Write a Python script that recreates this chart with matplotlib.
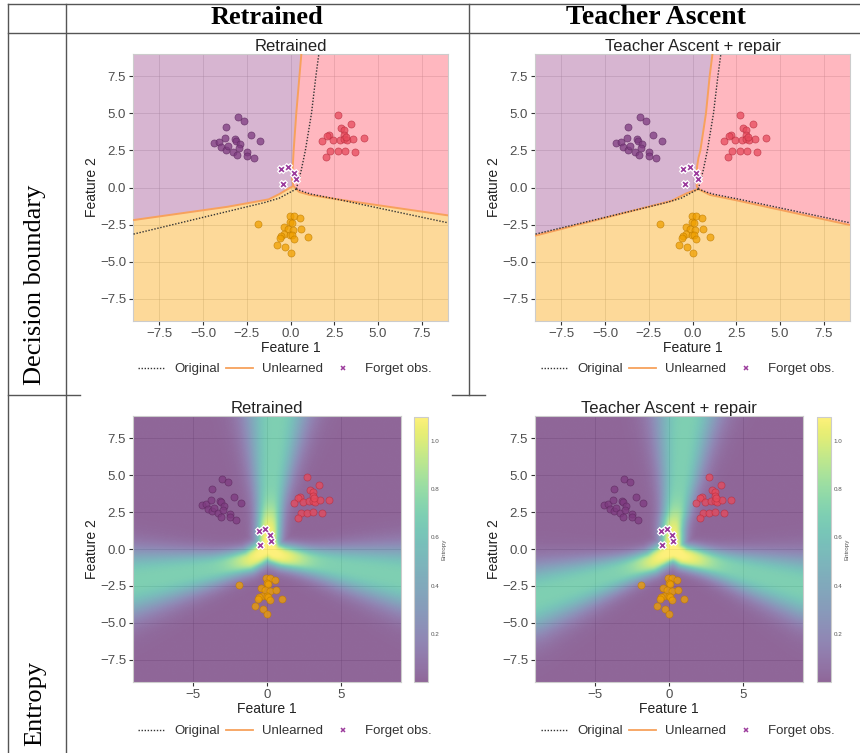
import numpy as np
import matplotlib.pyplot as plt
from matplotlib.colors import ListedColormap
from matplotlib.lines import Line2D
from matplotlib.path import Path

plt.rcParams['font.family'] = ['Liberation Sans', 'DejaVu Sans']

# ---- training points ----
purple_x = [-2.99, -2.63, -3.67, -2.24, -1.73, -4.37, -4.10, -3.76, -3.16, -3.12,
            -2.86, -3.99, -3.71, -3.58, -3.27, -2.97, -3.07, -2.50, -2.48, -2.07]
purple_y = [4.72, 4.51, 4.09, 3.52, 3.11, 2.97, 3.04, 3.31, 3.25, 3.16,
            2.93, 2.70, 2.55, 2.77, 2.41, 2.63, 2.16, 2.36, 2.14, 1.98]
red_x = [2.71, 3.46, 2.90, 3.08, 3.07, 2.22, 2.08, 1.78, 2.42, 2.84,
         3.07, 3.25, 3.55, 4.18, 2.27, 2.71, 3.10, 3.69, 2.05, 3.16]
red_y = [4.87, 4.31, 3.99, 3.88, 3.56, 3.54, 3.45, 3.13, 3.18, 3.22,
         3.25, 3.20, 3.29, 3.31, 2.43, 2.46, 2.48, 2.41, 2.07, 3.43]
orange_x = [-0.05, 0.20, 0.52, -0.02, 0.06, -1.85, -0.40, -0.15, 0.17, 0.60,
            -0.35, -0.03, 0.06, -0.53, -0.62, 0.22, 0.98, -0.80, -0.30, 0.02]
orange_y = [-1.93, -1.93, -2.07, -2.30, -2.36, -2.44, -2.66, -2.78, -2.84, -2.78,
            -3.16, -3.18, -3.22, -3.25, -3.38, -3.46, -3.37, -3.85, -4.03, -4.41]
forget_x = [-0.55, -0.15, 0.20, 0.30, -0.45]
forget_y = [1.24, 1.35, 0.95, 0.56, 0.25]

# ---- decision boundary branches (junction -> frame) ----
orig_top = [(0.33, -0.10), (0.45, 0.40), (0.62, 1.20), (0.85, 2.50), (1.20, 5.00), (1.45, 7.50), (1.62, 9.00)]
orig_left = [(0.33, -0.10), (-0.65, -0.72), (-1.50, -1.02), (-9.00, -3.15)]
orig_right = [(0.33, -0.10), (0.85, -0.33), (1.20, -0.45), (2.70, -0.80), (9.00, -2.38)]

retr_top = [(0.16, 0.10), (0.10, 0.60), (0.12, 1.20), (0.18, 2.50), (0.33, 5.00), (0.51, 7.50), (0.62, 9.00)]
retr_left = [(0.16, 0.10), (-0.30, -0.20), (-0.65, -0.45), (-1.25, -0.80), (-3.60, -1.30), (-9.00, -2.20)]
retr_right = [(0.16, 0.10), (0.50, -0.30), (1.10, -0.50), (2.70, -0.80), (9.00, -1.88)]

ta_top = [(0.32, -0.10), (0.24, 0.10), (0.26, 1.40), (0.34, 2.00), (0.45, 2.50), (0.77, 5.00), (0.98, 7.50), (1.14, 9.00)]
ta_left = [(0.32, -0.10), (-0.35, -0.40), (-1.20, -0.90), (-9.00, -3.25)]
ta_right = [(0.32, -0.10), (1.00, -0.50), (2.54, -0.87), (9.00, -2.53)]

fill_cols = ['#9D488E', '#FF4D61', '#FAA200']
pt_face = ['#7E3A80', '#E84A5C', '#F0A000']
pt_edge = ['#5E2A60', '#B83040', '#C07C00']
forget_col = '#9B3B9C'
line_orange = '#F7A15C'
lim = 9


def regions(top, left, right, c=lim):
    top, left, right = map(np.array, (top, left, right))
    purple = np.vstack([top, [[-c, c]], left[::-1]])
    red = np.vstack([top, [[c, c]], right[::-1]])
    orange = np.vstack([left, [[-c, -c], [c, -c]], right[::-1]])
    return purple, red, orange


def seg_dist(X, Y, line):
    line = np.asarray(line)
    d = np.full(X.shape, np.inf)
    for (x0, y0), (x1, y1) in zip(line[:-1], line[1:]):
        dx, dy = x1 - x0, y1 - y0
        t = np.clip(((X - x0) * dx + (Y - y0) * dy) / (dx * dx + dy * dy), 0, 1)
        d = np.minimum(d, np.hypot(X - x0 - t * dx, Y - y0 - t * dy))
    return d


def entropy_grid(top, left, right, n=300):
    g = np.linspace(-lim, lim, n)
    X, Y = np.meshgrid(g, g)
    pts = np.column_stack([X.ravel(), Y.ravel()])
    inside = [Path(p).contains_points(pts).reshape(X.shape) for p in regions(top, left, right, c=40)]
    dt, dl, dr = (seg_dist(X, Y, b) for b in (top, left, right))
    d = np.array([np.where(inside[0], 0, np.minimum(dt, dl)),
                  np.where(inside[1], 0, np.minimum(dt, dr)),
                  np.where(inside[2], 0, np.minimum(dl, dr))])
    jx, jy = top[0]
    r = np.hypot(X - jx, Y - jy)
    w = 0.22 + 0.095 * r
    z = -(d / w) ** 1.5
    p = np.exp(z - z.max(0))
    p /= p.sum(0)
    # softer three-way mixing along the bands close to the junction
    dmin = np.minimum(np.minimum(dt, dl), dr)
    glow = np.exp(-(r / 1.9) ** 2) * np.exp(-(dmin / (w + 0.3)) ** 2)
    p = (1 - glow) * p + glow / 3
    return -(p * np.log(p + 1e-12)).sum(0)


def style_axes(ax, xt, yt):
    ax.set_xlim(-lim, lim)
    ax.set_ylim(-lim, lim)
    ax.set_xticks(xt)
    ax.set_yticks(yt)
    ax.set_axisbelow(True)
    ax.grid(True, color='#9a9a9a', alpha=0.35, lw=0.6)
    for s in ax.spines.values():
        s.set_color('#cccccc')
        s.set_linewidth(0.8)
    ax.tick_params(labelsize=9.5, length=3, width=0.8, color='#333333',
                   labelcolor='#4d4d4d', pad=2)
    ax.set_xlabel('Feature 1', fontsize=10, color='#222222', labelpad=1)
    ax.set_ylabel('Feature 2', fontsize=10, color='#222222', labelpad=1)


def draw_points(ax):
    for xs, ys, fc, ec in zip([purple_x, red_x, orange_x], [purple_y, red_y, orange_y], pt_face, pt_edge):
        ax.scatter(xs, ys, s=26, c=fc, edgecolors=ec, linewidths=0.5, alpha=0.75, zorder=5)
    ax.scatter(forget_x, forget_y, s=22, marker='x', c='white', linewidths=3.0, zorder=6)
    ax.scatter(forget_x, forget_y, s=12, marker='x', c=forget_col, linewidths=1.2, zorder=7)


def add_legend(cx, cy):
    handles = [Line2D([], [], color='#333333', ls=(0, (1, 1.2)), lw=1.0),
               Line2D([], [], color=line_orange, lw=1.3),
               Line2D([], [], color=forget_col, marker='x', ls='none', ms=3.5, mew=1.1)]
    fig.legend(handles, ['Original', 'Unlearned', 'Forget obs.'], loc='center',
               bbox_to_anchor=(cx / 860, 1 - cy / 753), ncol=3, frameon=False,
               fontsize=9.5, handlelength=2.0, handletextpad=0.7, columnspacing=0.5,
               labelcolor='#333333')


fig = plt.figure(figsize=(8.6, 7.53), dpi=100)

ticks_a = [-7.5, -5.0, -2.5, 0.0, 2.5, 5.0, 7.5]

# ---- decision boundary row ----
models = [('Retrained', retr_top, retr_left, retr_right),
          ('Teacher Ascent + repair', ta_top, ta_left, ta_right)]
lefts = [133, 535]
for (title, top, left, right), lx in zip(models, lefts):
    ax = fig.add_axes([lx / 860, 1 - 321 / 753, 315 / 860, 267 / 753])
    for poly, col in zip(regions(top, left, right), fill_cols):
        ax.fill(poly[:, 0], poly[:, 1], color=col, alpha=0.4, lw=0, zorder=1)
    for br in (top, left, right):
        br = np.array(br)
        ax.plot(br[:, 0], br[:, 1], color=line_orange, lw=1.4, zorder=3, solid_capstyle='butt')
    for br in (orig_top, orig_left, orig_right):
        br = np.array(br)
        ax.plot(br[:, 0], br[:, 1], color='#333333', lw=1.0, ls=(0, (1, 1.2)), zorder=4)
    draw_points(ax)
    style_axes(ax, ticks_a, ticks_a)
    ax.set_title(title, fontsize=12, color='#222222', pad=2)

add_legend(285, 369)
add_legend(688, 369)

# ---- entropy row ----
colors = plt.get_cmap('viridis')(np.linspace(0, 1, 256))
colors[:, 3] = 0.6
ent_cmap = ListedColormap(colors)

cbar_lefts = [414, 817]
for (title, top, left, right), lx, cx in zip(models, lefts, cbar_lefts):
    ax = fig.add_axes([lx / 860, 1 - 682 / 753, 268 / 860, 266 / 753])
    H = entropy_grid(top, left, right)
    im = ax.imshow(H, extent=(-lim, lim, -lim, lim), origin='lower', cmap=ent_cmap,
                   vmin=0, vmax=np.log(3), interpolation='bilinear', aspect='auto', zorder=1)
    draw_points(ax)
    style_axes(ax, [-5, 0, 5], ticks_a)
    ax.set_title(title, fontsize=12, color='#222222', pad=2)
    cax = fig.add_axes([cx / 860, 1 - 682 / 753, 13.5 / 860, 265 / 753])
    cb = fig.colorbar(im, cax=cax)
    cb.set_ticks([0.2, 0.4, 0.6, 0.8, 1.0])
    cb.ax.tick_params(labelsize=4.5, length=0, labelcolor='#555555', pad=2)
    cb.outline.set_edgecolor('#cccccc')
    cb.set_label('Entropy', fontsize=4.5, color='#555555', labelpad=2)

add_legend(285, 731)
add_legend(688, 731)

# ---- surrounding table ----
serif = ['Liberation Serif', 'DejaVu Serif']
fig.text(267 / 860, 1 - 18 / 753, 'Retrained', fontsize=19, fontweight='bold', family=serif, ha='center', va='center')
fig.text(656 / 860, 1 - 18 / 753, 'Teacher Ascent', fontsize=20, fontweight='bold', family=serif, ha='center', va='center')
fig.text(35 / 860, 1 - 285 / 753, 'Decision boundary', fontsize=19, rotation=90, family=serif, ha='center', va='center')
fig.text(35 / 860, 1 - 703 / 753, 'Entropy', fontsize=19, rotation=90, family=serif, ha='center', va='center')


def rule(x0, y0, x1, y1):
    fig.add_artist(Line2D([x0 / 860, x1 / 860], [1 - y0 / 753, 1 - y1 / 753], color='#555555', lw=1.0))


rule(8, 4, 860, 4)
rule(8, 33, 860, 33)
rule(8, 395, 80, 395)
rule(452, 395, 485, 395)
rule(8, 4, 8, 753)
rule(66, 4, 66, 753)
rule(469, 4, 469, 395)

fig.savefig('out.png', dpi=100)
